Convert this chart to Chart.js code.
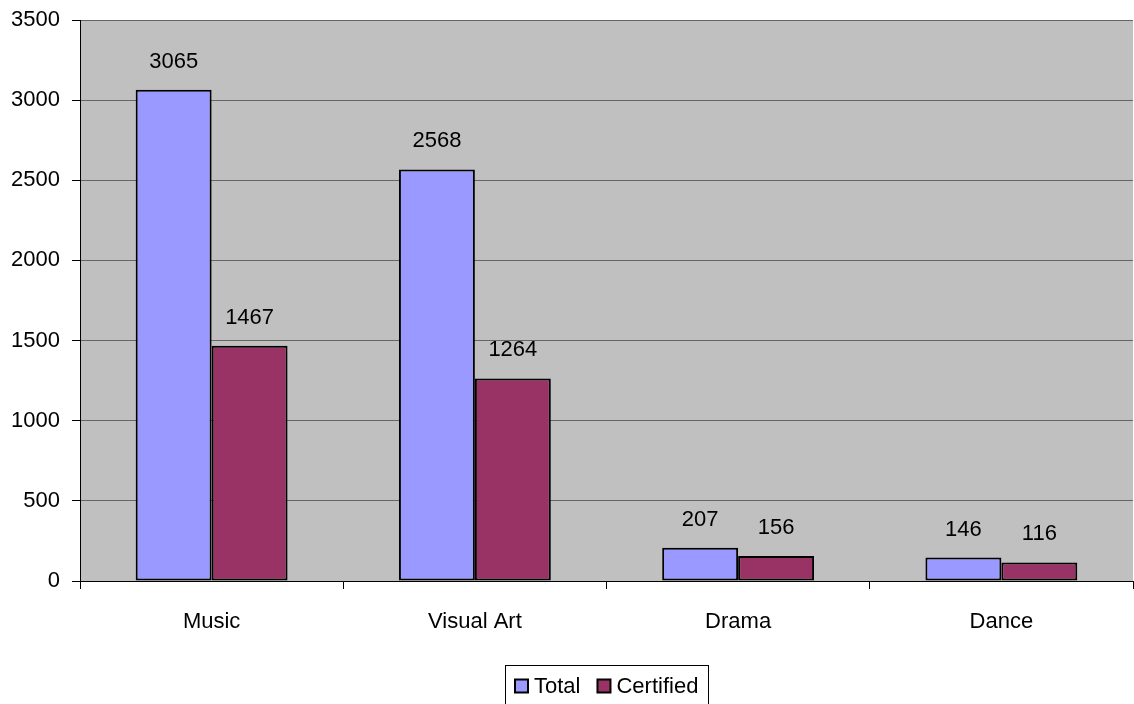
<!DOCTYPE html>
<html>
<head>
<meta charset="utf-8">
<script src="https://cdn.jsdelivr.net/npm/chart.js@4.4.1/dist/chart.umd.min.js"></script>
<style>
  html, body { margin: 0; padding: 0; background: #fff; }
  #wrap { width: 1134px; height: 704px; }
</style>
</head>
<body>
<div id="wrap"><canvas id="chart"></canvas></div>
<script>
// arts enrolment by discipline
const categories    = ['Music', 'Visual Art', 'Drama', 'Dance'];
const totalVals     = [3065, 2568, 207, 146];
const certifiedVals = [1467, 1264, 156, 116];
const yTicks        = [0, 500, 1000, 1500, 2000, 2500, 3000, 3500];

const FONT = { family: '"Liberation Sans", Arial, sans-serif', size: 22 };
const fontStr = `${FONT.size}px ${FONT.family}`;

// plot background
const plotBg = {
  id: 'plotBg',
  beforeDraw(chart) {
    const { ctx, chartArea: a } = chart;
    ctx.save();
    ctx.fillStyle = '#C0C0C0';
    ctx.fillRect(a.left, a.top, a.right - a.left, a.bottom - a.top);
    ctx.restore();
  }
};

// value labels above each bar
const valueLabels = {
  id: 'valueLabels',
  afterDatasetsDraw(chart) {
    const { ctx } = chart;
    ctx.save();
    ctx.font = fontStr;
    ctx.fillStyle = '#000';
    ctx.textAlign = 'center';
    ctx.textBaseline = 'middle';
    chart.data.datasets.forEach((ds, i) => {
      chart.getDatasetMeta(i).data.forEach((bar, j) => {
        ctx.fillText(String(ds.data[j]), bar.x, bar.y - 28);
      });
    });
    ctx.restore();
  }
};

// boxed legend centred under the plot area
const boxLegend = {
  id: 'boxLegend',
  afterDraw(chart) {
    const { ctx, chartArea: a } = chart;
    const sw = 13, gapIn = 6, gapOut = 17, padX = 10;
    ctx.save();
    ctx.font = fontStr;
    const items = chart.data.datasets.map(ds => ({
      text: ds.label, color: ds.backgroundColor, w: ctx.measureText(ds.label).width
    }));
    const inner = items.reduce((s, it) => s + sw + gapIn + it.w, 0) + gapOut * (items.length - 1);
    const boxW = inner + padX * 2;
    const cx = (a.left + a.right) / 2;
    const x0 = Math.round(cx - boxW / 2);
    const y0 = chart.height - 39;
    const midY = y0 + 21;
    ctx.strokeStyle = '#000';
    ctx.lineWidth = 1;
    ctx.strokeRect(x0 + 0.5, y0 + 0.5, Math.round(boxW), 60);
    let x = x0 + padX;
    ctx.textBaseline = 'middle';
    ctx.textAlign = 'left';
    items.forEach(it => {
      ctx.fillStyle = it.color;
      ctx.fillRect(x, midY - sw / 2, sw, sw);
      ctx.lineWidth = 2;
      ctx.strokeRect(x, midY - sw / 2, sw, sw);
      ctx.fillStyle = '#000';
      ctx.fillText(it.text, x + sw + gapIn, midY + 1);
      x += sw + gapIn + it.w + gapOut;
    });
    ctx.restore();
  }
};

new Chart(document.getElementById('chart'), {
  type: 'bar',
  data: {
    labels: categories,
    datasets: [
      {
        label: 'Total',
        data: totalVals,
        backgroundColor: '#9999FF',
        borderColor: '#000',
        borderWidth: 2,
        borderSkipped: false
      },
      {
        label: 'Certified',
        data: certifiedVals,
        backgroundColor: '#993366',
        borderColor: '#000',
        borderWidth: 2,
        borderSkipped: false
      }
    ]
  },
  options: {
    responsive: true,
    maintainAspectRatio: false,
    animation: false,
    layout: { padding: { top: 20, right: 1, left: 0, bottom: 39 } },
    datasets: { bar: { barPercentage: 1, categoryPercentage: 0.577 } },
    plugins: {
      tooltip: { enabled: false },
      legend: { display: false }
    },
    scales: {
      x: {
        grid: {
          display: true,
          drawOnChartArea: false,
          offset: true,
          color: '#000',
          tickLength: 8
        },
        border: { color: '#000', width: 1 },
        ticks: { color: '#000', font: FONT, padding: 20 },
        afterFit(scale) { scale.height = 84; }
      },
      y: {
        min: 0,
        max: 3500,
        afterBuildTicks(scale) { scale.ticks = yTicks.map(v => ({ value: v })); },
        grid: {
          color: '#666',
          tickColor: '#000',
          tickLength: 8
        },
        border: { color: '#000', width: 1 },
        ticks: { color: '#000', font: FONT, padding: 12, callback: v => String(v) },
        afterFit(scale) {
          scale.width = 80;
          scale.paddingTop = 0;
          scale.paddingBottom = 0;
        }
      }
    }
  },
  plugins: [plotBg, valueLabels, boxLegend]
});
</script>
</body>
</html>
